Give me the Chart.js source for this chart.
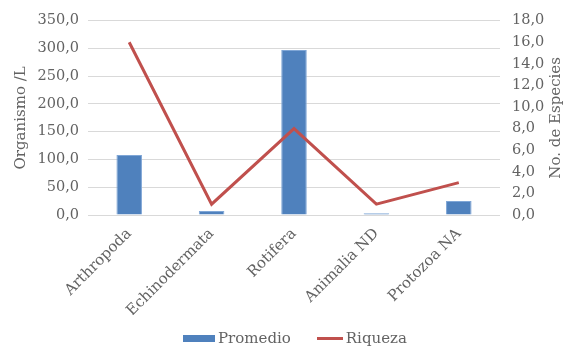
<!DOCTYPE html>
<html>
<head>
<meta charset="utf-8">
<script src="https://cdn.jsdelivr.net/npm/chart.js@4/dist/chart.umd.min.js"></script>
<style>
  html, body { margin: 0; padding: 0; background: #fff; overflow: hidden; }
  #wrap { position: relative; width: 570px; height: 347px; }
  #leyenda {
    position: absolute; left: 183px; top: 328px; height: 20px;
    display: flex; align-items: center;
    font: 15px "DejaVu Serif"; color: #636363; white-space: nowrap;
  }
  #leyenda .item { display: flex; align-items: center; margin-right: 26px; }
  #leyenda .item:last-child { margin-right: 0; }
  #leyenda .caja { display: inline-block; margin-right: 3px; }
</style>
</head>
<body>
<div id="wrap">
  <canvas id="grafico"></canvas>
  <div id="leyenda"></div>
</div>
<script>
const categorias = ['Arthropoda', 'Echinodermata', 'Rotifera', 'Animalia ND', 'Protozoa NA']
const promedio = [108, 7, 297, 3, 25]
const riqueza = [16, 1, 8, 1, 3]

const azul = '#4F81BD'
const rojo = '#C0504D'
const gris = '#636363'
const fuente = 'DejaVu Serif'

const coma = v => Number(v).toFixed(1).replace('.', ',')

// right axis title reads bottom to top, like the left one
const tituloDerecho = {
    id: 'tituloDerecho',
    afterDraw(chart) {
        const {ctx, chartArea} = chart
        ctx.save()
        ctx.translate(556, (chartArea.top + chartArea.bottom) / 2)
        ctx.rotate(-Math.PI / 2)
        ctx.font = '15px "' + fuente + '"'
        ctx.fillStyle = gris
        ctx.textAlign = 'center'
        ctx.textBaseline = 'middle'
        ctx.fillText('No. de Especies', 0, 0)
        ctx.restore()
    }
}

const ctx = document.getElementById('grafico')

const grafico = new Chart(ctx, {
    data: {
        labels: categorias,
        datasets: [
            {
                type: 'bar',
                label: 'Promedio',
                data: promedio,
                yAxisID: 'y',
                backgroundColor: azul,
                borderColor: '#7FA6D6',
                borderWidth: 1,
                barPercentage: 0.31,
                categoryPercentage: 1,
                order: 2
            },
            {
                type: 'line',
                label: 'Riqueza',
                data: riqueza,
                yAxisID: 'y1',
                borderColor: rojo,
                borderWidth: 3,
                pointRadius: 0,
                tension: 0,
                fill: false,
                order: 1
            }
        ]
    },
    options: {
        responsive: true,
        maintainAspectRatio: false,
        animation: false,
        layout: {padding: {top: 10, left: 12, right: 0, bottom: 32}},
        scales: {
            x: {
                grid: {display: false},
                border: {display: false},
                ticks: {
                    color: gris,
                    font: {family: fuente, size: 15},
                    maxRotation: 45,
                    minRotation: 45,
                    padding: 2
                },
                afterFit: s => { s.height = 100 }
            },
            y: {
                position: 'left',
                min: 0,
                max: 350,
                ticks: {
                    stepSize: 50,
                    color: gris,
                    font: {family: fuente, size: 14.5},
                    callback: v => coma(v),
                    padding: 9
                },
                grid: {color: '#D9D9D9', drawTicks: false},
                border: {display: false},
                title: {
                    display: true,
                    text: 'Organismo /L',
                    color: gris,
                    font: {family: fuente, size: 15},
                    padding: 0
                },
                afterFit: s => { s.width = 76 }
            },
            y1: {
                position: 'right',
                min: 0,
                max: 18,
                ticks: {
                    stepSize: 2,
                    color: gris,
                    font: {family: fuente, size: 14.5},
                    callback: v => coma(v),
                    padding: 12
                },
                grid: {display: false, drawTicks: false},
                border: {display: false},
                afterFit: s => { s.width = 70 }
            }
        },
        plugins: {
            legend: {display: false},
            tooltip: {enabled: false}
        }
    },
    plugins: [tituloDerecho]
})

// legend under the chart, built from the datasets
const leyenda = document.getElementById('leyenda')
grafico.data.datasets.forEach(ds => {
    const item = document.createElement('span')
    item.className = 'item'
    const caja = document.createElement('span')
    caja.className = 'caja'
    if (ds.type === 'bar') {
        caja.style.cssText = `width:32px;height:7px;background:${ds.backgroundColor}`
    } else {
        caja.style.cssText = `width:26px;height:3px;background:${ds.borderColor}`
    }
    item.appendChild(caja)
    item.appendChild(document.createTextNode(ds.label))
    leyenda.appendChild(item)
})
</script>
</body>
</html>
